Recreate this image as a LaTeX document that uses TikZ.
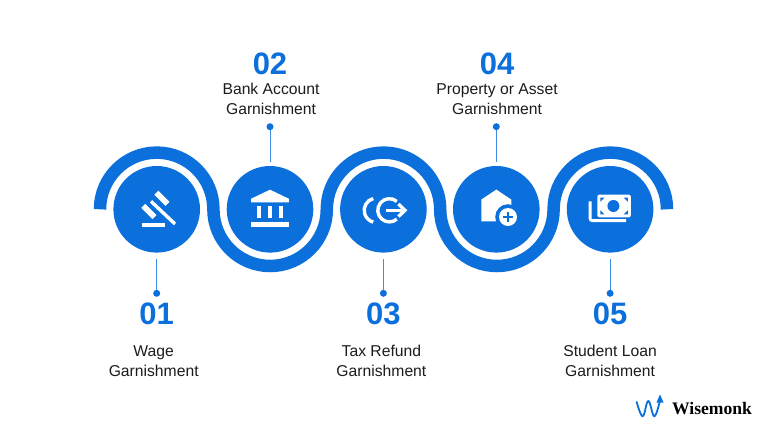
\documentclass[tikz,border=0pt]{standalone}
\usepackage{fontspec}
\setmainfont{Liberation Sans}
\newfontfamily\logofont{Liberation Serif}
\usetikzlibrary{positioning,calc}
\definecolor{bandblue}{HTML}{0B6FDC}
\definecolor{stemblue}{HTML}{3F8DE4}
\definecolor{inkgray}{HTML}{1C1C1C}
\tikzset{
    x=1pt, y=1pt,
    band/.style={draw=bandblue, line width=12.5pt},
    disc/.style={circle, fill=bandblue, minimum size=86.6pt, inner sep=0pt},
    dot/.style={circle, fill=bandblue, minimum size=7pt, inner sep=0pt},
    stem/.style={draw=stemblue, line width=1pt},
    numlabel/.style={text=bandblue, font=\fontsize{31}{31}\selectfont\bfseries, inner sep=0pt},
    textlabel/.style={text=inkgray, font=\fontsize{15.7}{20}\selectfont, align=center, inner sep=0pt},
    iconline/.style={draw=white, line width=3.4pt},
}
\begin{document}
\begin{tikzpicture}
\useasboundingbox[fill=white] (0,0) rectangle (768,432);

% wavy band
\draw[band] (100,222.7) arc (180:0:56.7) arc (180:360:56.7) arc (180:0:56.7)
    arc (180:360:56.7) arc (180:0:56.7);

% discs
\node[disc] (wage) at (156.7,222.7) {};
\node[disc] (bank) at (270,222.7) {};
\node[disc] (refund) at (383.4,222.7) {};
\node[disc] (asset) at (496.3,222.7) {};
\node[disc] (loan) at (610.1,222.7) {};

% dots and stems
\node[dot] (wagedot) at (156.7,138.7) {};
\node[dot] (bankdot) at (270,305.3) {};
\node[dot] (refunddot) at (383.4,138.7) {};
\node[dot] (assetdot) at (496.3,305.3) {};
\node[dot] (loandot) at (610.1,138.7) {};
\draw[stem, shorten >=6pt] (wagedot) -- (wage);
\draw[stem, shorten >=4pt] (bankdot) -- (bank);
\draw[stem, shorten >=6pt] (refunddot) -- (refund);
\draw[stem, shorten >=4pt] (assetdot) -- (asset);
\draw[stem, shorten >=6pt] (loandot) -- (loan);

% labels
\node[numlabel, below=5.3pt of wagedot] (wagenum) {01};
\node[numlabel, above=48.3pt of bankdot] (banknum) {02};
\node[numlabel, below=5.3pt of refunddot] (refundnum) {03};
\node[numlabel, above=48.3pt of assetdot, xshift=0.7pt] (assetnum) {04};
\node[numlabel, below=5.3pt of loandot] (loannum) {05};
\node[textlabel, above=8pt of bankdot, xshift=1pt] (banktext) {Bank Account\\Garnishment};
\node[textlabel, above=8pt of assetdot, xshift=0.7pt] (assettext) {Property or Asset\\Garnishment};
\node[textlabel, below=20.5pt of wagenum, xshift=-3pt] (wagetext) {Wage\\Garnishment};
\node[textlabel, below=20.5pt of refundnum, xshift=-2pt] (refundtext) {Tax Refund\\Garnishment};
\node[textlabel, below=20.5pt of loannum] (loantext) {Student Loan\\Garnishment};

% gavel
\begin{scope}[shift={(wage.center)}]
\draw[iconline, line width=5.6pt] (-13.4,3.4) -- (-2.2,-7.8);
\draw[iconline, line width=5.6pt] (-0.4,16.6) -- (10.8,5.4);
\draw[iconline] (-5.7,8) -- (18.3,-14.7);
\fill[white] (-14.4,-13.7) rectangle (8.3,-17.7);
\end{scope}

% bank
\begin{scope}[shift={(bank.center)}]
\fill[white] (0,19.6) -- (18.8,10.6) -- (18.8,7) -- (-18.8,7) -- (-18.8,10.6) -- cycle;
\fill[white] (-12.7,3) rectangle (-9.3,-8.7);
\fill[white] (-1.7,3) rectangle (1.7,-8.7);
\fill[white] (9.3,3) rectangle (12.7,-8.7);
\fill[white] (-19,-13) rectangle (19,-17.4);
\end{scope}

% refund
\begin{scope}[shift={(refund.center)}]
\draw[iconline] ($(-7,-1)+(105:12.2)$) arc (105:255:12.2);
\draw[iconline] ($(6,-1)+(50:11.6)$) arc (50:310:11.6);
\draw[iconline] (2.7,-1) -- (20.7,-1);
\draw[iconline] (15,5.3) -- (21.5,-1) -- (15,-7.3);
\end{scope}

% house
\begin{scope}[shift={(asset.center)}]
\fill[white] (0,19.7) -- (15,9.7) -- (15,-12) -- (-15,-12) -- (-15,9.7) -- cycle;
\fill[bandblue] (11.7,-7.7) circle (12.8);
\fill[white] (11.7,-7.7) circle (9);
\draw[draw=bandblue, line width=2pt] (6.7,-7.7) -- (16.7,-7.7);
\draw[draw=bandblue, line width=2pt] (11.7,-2.7) -- (11.7,-12.7);
\end{scope}

% money
\begin{scope}[shift={(loan.center)}]
\draw[iconline, line width=2.8pt, rounded corners=2pt] (-20,8) -- (-20,-11.3) -- (16,-11.3);
\fill[white, rounded corners=2pt] (-12.7,14.7) rectangle (20.7,-8);
\fill[bandblue] (3.3,3.3) circle (6);
\fill[bandblue] (-9.7,11.7) -- (-5.7,11.7) -- (-9.7,7.7) -- cycle;
\fill[bandblue] (17.7,11.7) -- (13.7,11.7) -- (17.7,7.7) -- cycle;
\fill[bandblue] (-9.7,-5) -- (-5.7,-5) -- (-9.7,-1) -- cycle;
\fill[bandblue] (17.7,-5) -- (13.7,-5) -- (17.7,-1) -- cycle;
\end{scope}

% logo
\draw[draw=bandblue, line width=1.8pt, line cap=round] plot[smooth, tension=0.7]
    coordinates {(636.7,30) (642.7,15.8) (648.3,31) (654.3,15.8) (659.8,31)};
\fill[bandblue] (660,37.5) -- (663.5,29.5) -- (656.5,29.5) -- cycle;
\node[text=black, font=\logofont\fontsize{17.6}{17.6}\selectfont\bfseries, inner sep=0pt] (logotext) at (712,23) {Wisemonk};
\end{tikzpicture}
\end{document}
